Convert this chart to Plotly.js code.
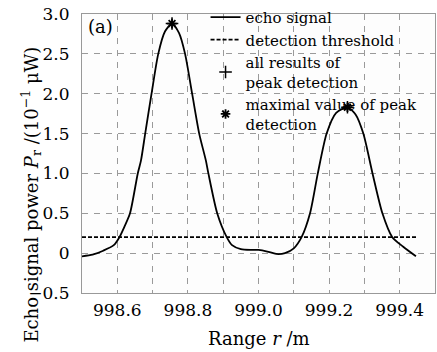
<!DOCTYPE html>
<html><head><meta charset="utf-8">
<script src="https://cdn.plot.ly/plotly-3.0.1.min.js"></script>
<style>html,body{margin:0;padding:0;background:#fff}</style>
</head><body><div id="chart" style="width:437px;height:352px"></div>
<script>
// Echo signal curve (range in m, power in 10^-1 uW)
var rangeM = [998.50, 998.53, 998.56, 998.59, 998.606, 998.62, 998.636, 998.658, 998.667, 998.679,
  998.697, 998.716, 998.735, 998.755, 998.775, 998.792, 998.812, 998.832, 998.851, 998.858,
  998.883, 998.91, 998.925, 998.95, 998.98, 999.00, 999.025, 999.05, 999.075, 999.10,
  999.122, 999.146, 999.168, 999.193, 999.22, 999.252, 999.275, 999.297, 999.323, 999.351,
  999.379, 999.41, 999.446];
var echoPower = [-0.04, -0.02, 0.03, 0.10, 0.20, 0.33, 0.50, 1.00, 1.16, 1.50,
  2.00, 2.50, 2.78, 2.88, 2.76, 2.50, 2.00, 1.50, 1.16, 1.00,
  0.50, 0.20, 0.10, 0.05, 0.04, 0.04, 0.02, -0.01, 0.00, 0.06,
  0.20, 0.50, 1.00, 1.50, 1.76, 1.83, 1.74, 1.50, 1.00, 0.50,
  0.20, 0.08, -0.04];
// Detection threshold
var thresholdRange = [998.50, 999.45];
var thresholdValue = [0.2, 0.2];
// Peak detection results
var peakRange = [998.755, 999.252];
var peakPower = [2.88, 1.83];
// Maximal value of peak detection
var maxPeakRange = [998.755, 999.252];
var maxPeakPower = [2.88, 1.83];
// Tick labels
var xTickVals = [998.6, 998.8, 999.0, 999.2, 999.4];
var xTickText = ['998.6', '998.8', '999.0', '999.2', '999.4'];
var yTickVals = [-0.5, 0, 0.5, 1.0, 1.5, 2.0, 2.5, 3.0];
var yTickText = ['\u22120.5', '0', '0.5', '1.0', '1.5', '2.0', '2.5', '3.0'];

var FONT = '"DejaVu Serif", "Liberation Serif", serif';
var traces = [
  {x: rangeM, y: echoPower, mode: 'lines', name: 'echo signal',
   line: {color: '#000', width: 1.8, shape: 'spline', smoothing: 0.7}},
  {x: thresholdRange, y: thresholdValue, mode: 'lines', name: 'detection threshold',
   line: {color: '#000', width: 1.8, dash: '4px,2px'}},
  {x: peakRange, y: peakPower, mode: 'markers', name: 'all results of<br>peak detection',
   marker: {symbol: 'cross-thin-open', size: 9, color: '#000', line: {color: '#000', width: 1.5}}},
  {x: maxPeakRange, y: maxPeakPower, mode: 'markers', name: 'maximal value of peak<br>detection',
   marker: {symbol: 'asterisk-open', size: 8, color: '#000', line: {color: '#000', width: 1.8}}}
];

var gridStyle = {showgrid: true, gridcolor: '#9a9a9a', gridwidth: 1, griddash: '6px,6px'};
var layout = {
  width: 437, height: 352,
  margin: {l: 82, r: 2, t: 13, b: 59},
  paper_bgcolor: '#ffffff', plot_bgcolor: '#fdfdfd',
  font: {family: FONT, color: '#000', size: 16},
  showlegend: true,
  legend: {x: 0.35, y: 1.043, xanchor: 'left', yanchor: 'top', bgcolor: 'rgba(0,0,0,0)',
    font: {family: FONT, size: 15, color: '#000'}, tracegroupgap: 0, itemwidth: 30},
  xaxis: Object.assign({range: [998.5, 999.5], tickvals: xTickVals, ticktext: xTickText,
    ticks: '', zeroline: false, showline: true, mirror: true, linecolor: '#999', linewidth: 1,
    ticklabelstandoff: 2, tickfont: {family: FONT, size: 17},
    minor: {dtick: 0.1, tick0: 998.5, showgrid: true, gridcolor: '#9a9a9a', gridwidth: 1, griddash: '6px,6px'}},
    gridStyle),
  yaxis: Object.assign({range: [-0.5, 3.0], tickvals: yTickVals, ticktext: yTickText,
    ticks: '', zeroline: false, showline: true, mirror: true, linecolor: '#999', linewidth: 1,
    ticklabelstandoff: 8, tickfont: {family: FONT, size: 17}}, gridStyle),
  annotations: [
    {text: '(a)', xref: 'paper', yref: 'paper', x: 0.012, y: 1.0, xanchor: 'left', yanchor: 'top',
     showarrow: false, font: {family: FONT, size: 18}},
    {text: 'Range <i>r</i> /m', xref: 'paper', yref: 'paper', x: 0.5, y: -0.12, xanchor: 'center', yanchor: 'top',
     showarrow: false, font: {family: FONT, size: 18}},
    {text: 'Echo signal power <i>P</i><sub>r</sub> /(10<sup>\u22121</sup> \u03bcW)', xref: 'paper', yref: 'paper',
     x: -0.145, xanchor: 'center', y: 0.352, yanchor: 'middle', textangle: -90,
     showarrow: false, font: {family: FONT, size: 18}}
  ]
};
Plotly.newPlot('chart', traces, layout, {displayModeBar: false, staticPlot: true});
</script></body></html>
